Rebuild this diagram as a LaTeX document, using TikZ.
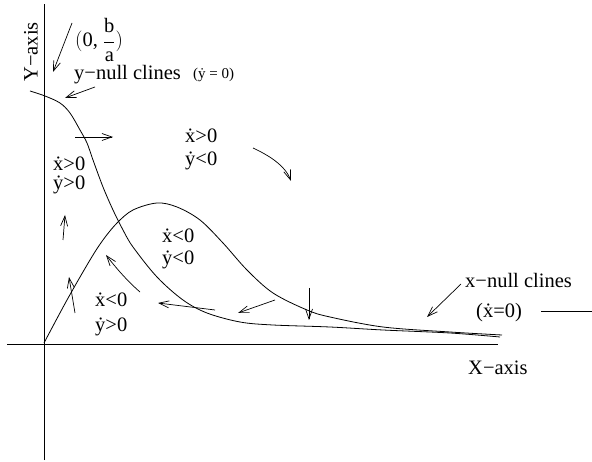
\documentclass[tikz,border=0pt]{standalone}
\usepackage{fontspec}
\setmainfont{Liberation Serif}
\usetikzlibrary{arrows.meta}

\begin{document}
\begin{tikzpicture}[x=1pt, y=-1pt,
    axis/.style={line width=0.9pt},
    curve/.style={line width=0.8pt},
    flow/.style={line width=0.7pt, -{Straight Barb[length=10pt, width=7pt]}},
    lbl/.style={inner sep=0pt, anchor=base west, font=\fontsize{20.5}{22}\selectfont},
    region/.style={lbl, align=left}]
  \useasboundingbox (0,0) rectangle (592,462);

  % Axes
  \coordinate (ytop) at (44,4);
  \coordinate (ybot) at (44,460);
  \coordinate (xleft) at (7,344);
  \coordinate (xright) at (498,344);
  \draw[axis] (ybot) -- (ytop);
  \draw[axis] (xleft) -- (xright);
  \node[lbl, anchor=center, rotate=90] (ylabel) at (31,52) {Y−axis};
  \node[lbl] (xlabel) at (468,375) {X−axis};

  % Null clines
  \draw[curve] plot[smooth, tension=0.55] coordinates {(30,91) (45,96) (60,103)
    (70,113) (80,130) (87,143) (93,160) (103,187) (113,210) (123,230) (133,247)
    (157,277) (183,300) (207,313) (240,322) (273,325) (330,327) (383,330)
    (450,333) (500,337)};
  \draw[curve] plot[smooth, tension=0.55] coordinates {(44,343) (67,300) (90,260)
    (103,240) (117,223) (133,210) (157,203) (177,207) (200,220) (223,243)
    (247,270) (273,293) (307,310) (330,317) (383,327) (450,332) (502,335)};

  % Labels
  \node[lbl, text depth=0pt] (intercept) at (75,47)
    {$\big(\mbox{0, }\displaystyle\frac{\mbox{b}}{\mbox{a}}\big)$};
  \node[lbl] (ynull) at (74,80) {y−null clines};
  \node[lbl, font=\fontsize{15}{17}\selectfont] (ynulleq) at (193,79) {(\.y = 0)};
  \node[lbl] (xnull) at (465,288) {x−null clines};
  \node[lbl] (xnulleq) at (476,318) {(\.x=0)};
  \coordinate (xnulltail) at (541,311);
  \draw[curve] (xnulltail) -- (592,311);

  % Regions
  \node[region] (upper) at (185,166) {\.x>0\\[1pt]\.y<0};
  \node[region] (left) at (53,190) {\.x>0\\[-3pt]\.y>0};
  \node[region] (middle) at (162,265) {\.x<0\\\.y<0};
  \node[region] (lower) at (95,332) {\.x<0\\[3pt]\.y>0};

  % Direction arrows
  \coordinate (p1) at (72,23);   \coordinate (q1) at (53,72);
  \coordinate (p2) at (95,87);   \coordinate (q2) at (65,98);
  \coordinate (p3) at (75,137);  \coordinate (q3) at (113,137);
  \coordinate (p4) at (253,148); \coordinate (q4) at (291,181);
  \coordinate (p5) at (63,240);  \coordinate (q5) at (65,215);
  \coordinate (p6) at (75,313);  \coordinate (q6) at (69,277);
  \coordinate (p7) at (140,292); \coordinate (q7) at (106,255);
  \coordinate (p8) at (215,310); \coordinate (q8) at (158,303);
  \coordinate (p9) at (275,300); \coordinate (q9) at (238,313);
  \coordinate (p10) at (309,288); \coordinate (q10) at (309,320);
  \coordinate (p11) at (461,284); \coordinate (q11) at (427,317);
  \draw[flow] (p1) -- (q1);
  \draw[flow] (p2) -- (q2);
  \draw[flow] (p3) -- (q3);
  \draw[flow] (p4) .. controls (268,155) and (285,165) .. (q4);
  \draw[flow] (p5) -- (q5);
  \draw[flow] (p6) -- (q6);
  \draw[flow] (p7) .. controls (125,279) and (113,264) .. (q7);
  \draw[flow] (p8) -- (q8);
  \draw[flow] (p9) -- (q9);
  \draw[flow] (p10) -- (q10);
  \draw[flow] (p11) -- (q11);
\end{tikzpicture}
\end{document}
